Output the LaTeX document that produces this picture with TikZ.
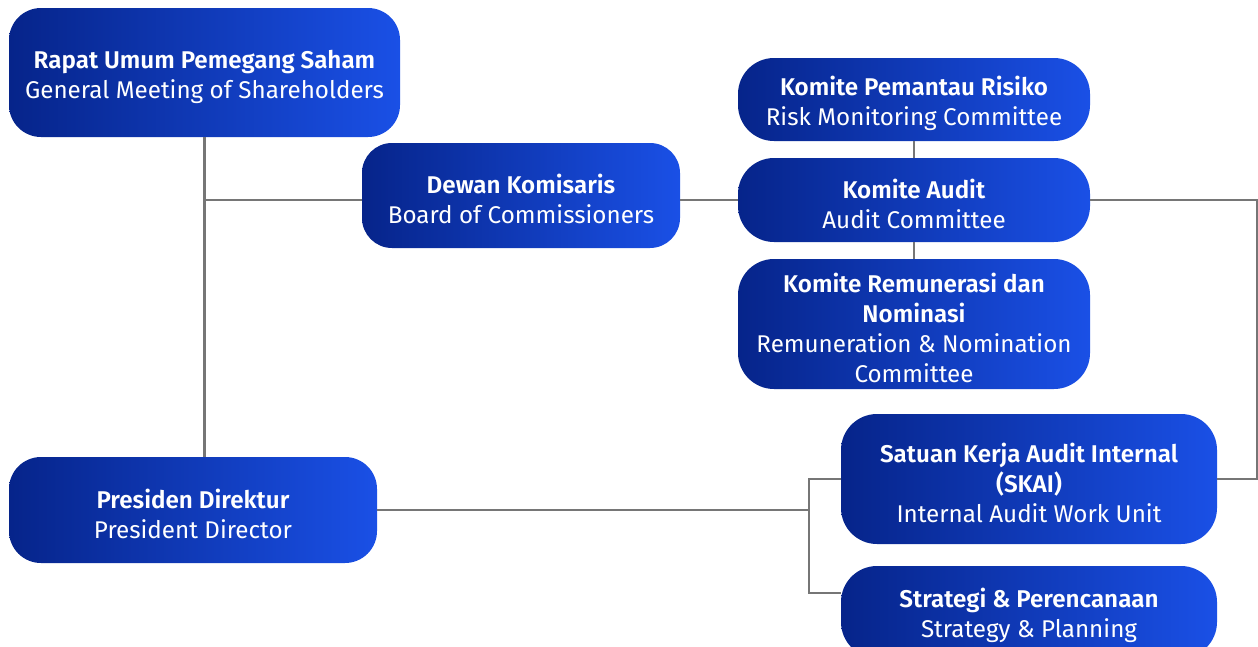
\documentclass[tikz,border=0pt]{standalone}
\usepackage{fontspec}
\setmainfont{Fira Sans}[BoldFont={Fira Sans SemiBold}]
\definecolor{boxdark}{HTML}{06248A}
\definecolor{boxlight}{HTML}{1A50E6}
\definecolor{linegray}{HTML}{767676}
% first (bold) line of a unit, with a strut so the text sits a bit low
\newcommand\unithead[1]{\rule{0pt}{27pt}\textbf{#1}}

\begin{document}
\begin{tikzpicture}[x=1pt, y=-1pt,
  unit/.style={shape=rectangle, rounded corners=32pt, left color=boxdark, right color=boxlight,
    text=white, align=center, inner sep=0pt, font=\fontsize{24.2}{30}\selectfont},
  link/.style={draw=linegray, line width=2.6pt}]
\useasboundingbox (0,0) rectangle (1258,646);
% board level
\node[unit, minimum width=391pt, minimum height=129pt] (rups) at (204.5,72.5) {\unithead{Rapat Umum Pemegang Saham}\\General Meeting of Shareholders};
\node[unit, minimum width=318pt, minimum height=105pt, rounded corners=30pt] (dekom) at (521,195.5) {\unithead{Dewan Komisaris}\\Board of Commissioners};
\node[unit, minimum width=368pt, minimum height=106pt] (presdir) at (193,510) {\unithead{Presiden Direktur}\\President Director};
% committees
\node[unit, minimum width=352pt, minimum height=83pt, rounded corners=36pt] (riskmon) at (914,99.5) {\unithead{Komite Pemantau Risiko}\\Risk Monitoring Committee};
\node[unit, minimum width=352pt, minimum height=84pt, rounded corners=36pt] (audit) at (914,200) {\unithead{Komite Audit}\\Audit Committee};
\node[unit, minimum width=352pt, minimum height=130pt, rounded corners=36pt] (remun) at (914,324) {\unithead{Komite Remunerasi dan}\\\textbf{Nominasi}\\Remuneration \& Nomination\\Committee};
% units under the president
\node[unit, minimum width=376pt, minimum height=130pt, rounded corners=36pt] (skai) at (1029,479) {\unithead{Satuan Kerja Audit Internal}\\\textbf{(SKAI)}\\Internal Audit Work Unit};
\node[unit, minimum width=376pt, minimum height=92pt, rounded corners=36pt] (strat) at (1029,612) {\unithead{Strategi \& Perencanaan}\\Strategy \& Planning};

\coordinate (edge) at (1257.5,200);
\coordinate (fork) at (809,510);
\coordinate (stratin) at (809,593);

\draw[link] (rups.south) -- (rups.south |- presdir.north);
\draw[link] (rups.south |- audit.west) -- (dekom.west |- audit.west);
\draw[link] (dekom.east |- audit.west) -- (audit.west);
\draw[link] (riskmon.south) -- (audit.north);
\draw[link] (audit.south) -- (remun.north);
\draw[link] (audit.east) -- (edge) |- (skai.east);
\draw[link] (presdir.east) -- (fork);
\draw[link] (skai.west) -| (fork) -- (stratin) -- (strat.west |- stratin);
\end{tikzpicture}
\end{document}
